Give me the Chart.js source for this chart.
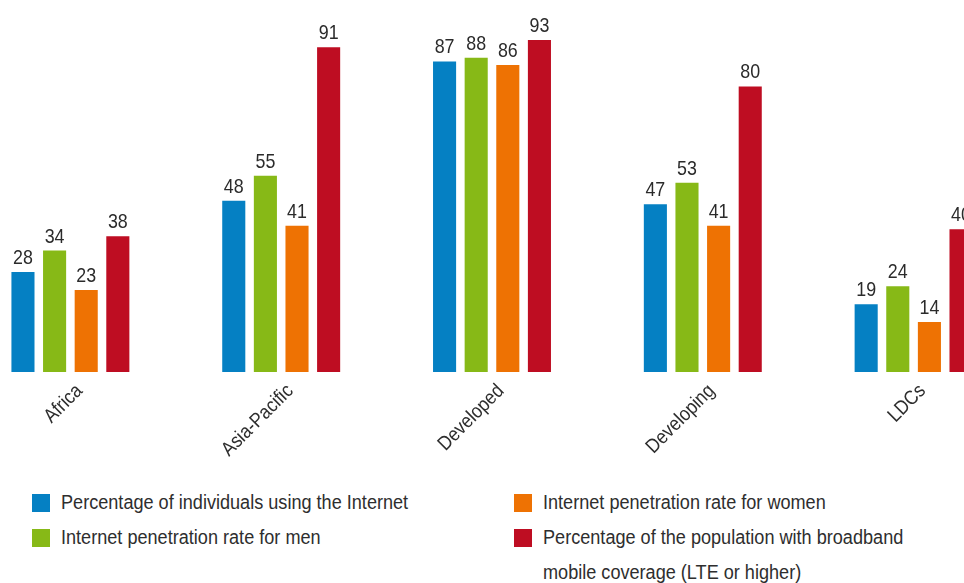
<!DOCTYPE html>
<html>
<head>
<meta charset="utf-8">
<script src="https://cdn.jsdelivr.net/npm/chart.js@4/dist/chart.umd.min.js"></script>
<style>
  html, body { margin: 0; padding: 0; background: #fff; width: 964px; height: 583px; overflow: hidden; position: relative; }
  #wrap { position: absolute; left: -35px; top: 0; width: 1054px; height: 460px; }
  .legend { position: absolute; left: 0; top: 0; font-family: "Liberation Sans", Arial, sans-serif; font-size: 20px; color: #2e2e2e; line-height: 35px; }
  .legend .item { position: absolute; white-space: nowrap; }
  .legend .box { position: absolute; width: 18px; height: 18px; }
  .legend .txt { position: absolute; transform-origin: 0 0; transform: scaleX(0.905); }
</style>
</head>
<body>
<div id="wrap"><canvas id="c"></canvas></div>
<div class="legend" id="legend"></div>
<script>
const categories = ["Africa", "Asia-Pacific", "Developed", "Developing", "LDCs"];
const individualsOnline = [28, 48, 87, 47, 19];
const menOnline = [34, 55, 88, 53, 24];
const womenOnline = [23, 41, 86, 41, 14];
const broadbandCoverage = [38, 91, 93, 80, 40];

const seriesNames = [
  "Percentage of individuals using the Internet",
  "Internet penetration rate for men",
  "Internet penetration rate for women",
  "Percentage of the population with broadband mobile coverage (LTE or higher)"
];
const seriesColors = ["#0580c3", "#87b917", "#ee7203", "#be0d22"];
const seriesData = [individualsOnline, menOnline, womenOnline, broadbandCoverage];

const FONT = '"Liberation Sans", Arial, sans-serif';
const NARROW = 0.85; // horizontal squeeze for a condensed look

// value labels above each bar
const valueLabels = {
  id: "valueLabels",
  afterDatasetsDraw(chart) {
    const ctx = chart.ctx;
    ctx.save();
    ctx.font = "21px " + FONT;
    ctx.fillStyle = "#2b2b2b";
    ctx.textAlign = "center";
    ctx.textBaseline = "alphabetic";
    chart.data.datasets.forEach((ds, i) => {
      chart.getDatasetMeta(i).data.forEach((bar, j) => {
        ctx.save();
        ctx.translate(bar.x, bar.y - 8);
        ctx.scale(NARROW, 1);
        ctx.fillText(String(ds.data[j]), 0, 0);
        ctx.restore();
      });
    });
    ctx.restore();
  }
};

// rotated category names under each group
const categoryLabels = {
  id: "categoryLabels",
  afterDraw(chart) {
    const ctx = chart.ctx;
    const xs = chart.scales.x;
    const baseY = chart.chartArea.bottom;
    ctx.save();
    ctx.font = "20px " + FONT;
    ctx.fillStyle = "#2e2e2e";
    ctx.textAlign = "right";
    ctx.textBaseline = "middle";
    chart.data.labels.forEach((lab, i) => {
      const x = xs.getPixelForValue(i);
      ctx.save();
      ctx.translate(x + 9, baseY + 16);
      ctx.rotate(-Math.PI / 4);
      ctx.scale(0.88, 1);
      ctx.fillText(lab, 0, 0);
      ctx.restore();
    });
    ctx.restore();
  }
};

new Chart(document.getElementById("c"), {
  type: "bar",
  data: {
    labels: categories,
    datasets: seriesData.map((d, i) => ({
      label: seriesNames[i],
      data: d,
      backgroundColor: seriesColors[i],
      borderWidth: 0,
      categoryPercentage: 0.6,
      barPercentage: 0.73
    }))
  },
  options: {
    responsive: true,
    maintainAspectRatio: false,
    animation: false,
    layout: { padding: { top: 15, left: 0, right: 0, bottom: 88 } },
    plugins: { legend: { display: false }, tooltip: { enabled: false } },
    scales: {
      y: { display: false, min: 0, max: 100 },
      x: { display: false }
    }
  },
  plugins: [valueLabels, categoryLabels]
});

// two-column legend below the chart
const legendEl = document.getElementById("legend");
const legendPos = [
  { x: 32, y: 485 },
  { x: 32, y: 520 },
  { x: 514, y: 485 },
  { x: 514, y: 520 }
];
const legendLines = [
  [seriesNames[0]],
  [seriesNames[1]],
  [seriesNames[2]],
  ["Percentage of the population with broadband", "mobile coverage (LTE or higher)"]
];
legendPos.forEach((p, i) => {
  const item = document.createElement("div");
  item.className = "item";
  item.style.left = p.x + "px";
  item.style.top = p.y + "px";
  const box = document.createElement("div");
  box.className = "box";
  box.style.background = seriesColors[i];
  box.style.left = "0px";
  box.style.top = "9px";
  const txt = document.createElement("div");
  txt.className = "txt";
  txt.style.left = "29px";
  txt.style.top = "0px";
  txt.innerHTML = legendLines[i].join("<br>");
  item.appendChild(box);
  item.appendChild(txt);
  legendEl.appendChild(item);
});
</script>
</body>
</html>
